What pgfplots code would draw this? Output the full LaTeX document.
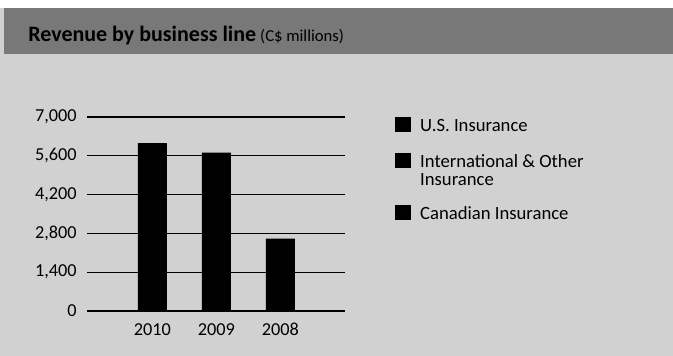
\documentclass[border=0pt]{standalone}
\usepackage{pgfplots}
\pgfplotsset{compat=1.18}
\usepackage{fontspec}
\setmainfont{Carlito}
\definecolor{bg}{gray}{0.82}
\definecolor{banner}{gray}{0.47}
\begin{document}
\begin{tikzpicture}[x=0.75pt,y=0.75pt]
\path[use as bounding box] (0,0) rectangle (673,356);
\fill[bg] (0,0) rectangle (673,348);
\fill[banner] (4,302) rectangle (673,348);
\node[anchor=base west, inner sep=0pt] at (28,314) {\fontsize{16.5}{18}\selectfont\bfseries Revenue by business line\hspace{3pt}{\fontsize{12.5}{14}\selectfont\mdseries (C\$ millions)}};
\begin{axis}[
  at={(65.25pt,33.75pt)}, anchor=south west, scale only axis,
  width=193.5pt, height=145.5pt,
  xmin=-1.02, xmax=3.01, ymin=0, ymax=7000,
  axis line style={draw=none}, tick style={draw=none}, major tick length=0pt,
  ymajorgrids, grid style={black, line width=0.8pt},
  ytick={0,1400,2800,4200,5600,7000},
  scaled y ticks=false,
  /pgf/number format/assume math mode=true,
  yticklabel style={/pgf/number format/1000 sep={,}, /pgf/number format/fixed,
    font=\fontsize{13.7}{16}\selectfont, inner sep=0pt, anchor=east, xshift=-7.5pt},
  xtick={0,1,2}, xticklabels={2010,2009,2008},
  xticklabel style={font=\fontsize{13.7}{16}\selectfont, inner sep=0pt, anchor=north, yshift=-9pt},
  legend style={at={(1.194,1)}, anchor=north west, draw=none, fill=none, inner sep=0pt,
    cells={anchor=base west}, nodes={inner sep=0pt}, column sep=7pt, row sep=14.6pt,
    font=\fontsize{14}{13.5}\selectfont},
]
\addplot[ybar, bar width=21.75pt, bar shift=0pt, fill=black, draw=none, forget plot]
  coordinates {(0,6060) (1,5710) (2,2610)};
\addlegendimage{legend image code/.code={\fill[black] (0pt,0pt) rectangle (11.25pt,10.5pt);}}
\addlegendentry{U.S. Insurance}
\addlegendimage{legend image code/.code={\fill[black] (0pt,0pt) rectangle (11.25pt,10.5pt);}}
\addlegendentry{\parbox[t]{160pt}{International \& Other\\Insurance}}
\addlegendimage{legend image code/.code={\fill[black] (0pt,0pt) rectangle (11.25pt,10.5pt);\path[draw=none,fill=none] (0pt,0pt) rectangle (0pt,23.25pt);}}
\addlegendentry{Canadian Insurance}
\end{axis}
\end{tikzpicture}
\end{document}
